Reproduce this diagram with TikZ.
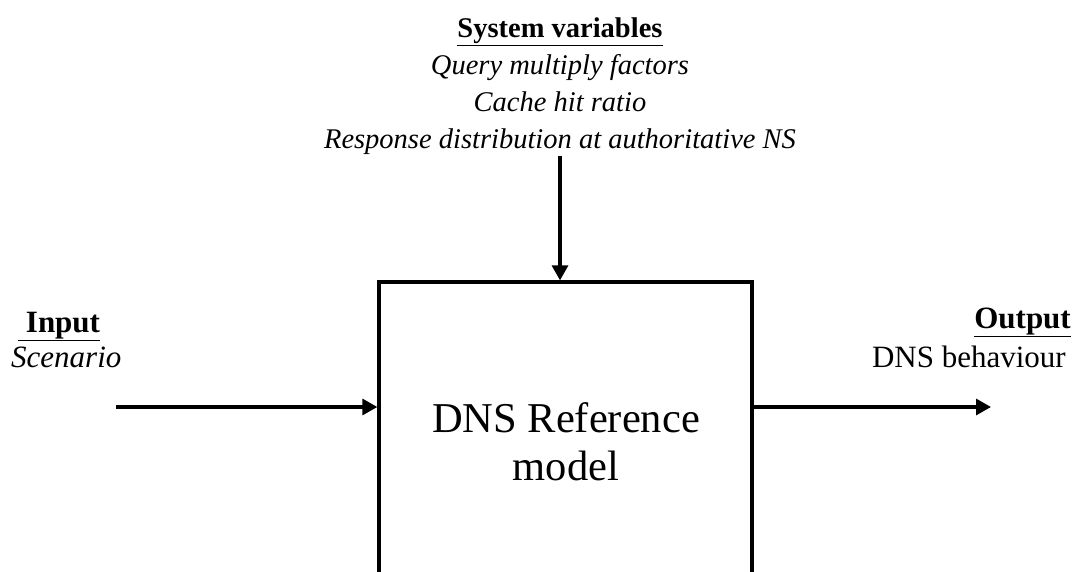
\documentclass[tikz,border=0pt]{standalone}
\usepackage{fontspec}
\setmainfont{Liberation Serif}
\usetikzlibrary{arrows.meta}
\tikzset{
  conn/.style={line width=3.2pt,-{Triangle[length=15pt,width=16pt]}},
  boxst/.style={draw,line width=3.3pt,rectangle,inner sep=0pt},
  toptext/.style={inner sep=0pt,align=center,font=\fontsize{28.5}{36.7}\selectfont},
  sidetext/.style={inner sep=0pt,font=\fontsize{31}{36}\selectfont},
}
\begin{document}
\begin{tikzpicture}[x=1pt,y=-1pt]
\useasboundingbox (0,0) rectangle (1075,572);
\clip (0,0) rectangle (1075,572);
% box (open at the bottom: it runs past the picture's edge)
\node[boxst,minimum width=373pt,minimum height=520pt] (box) at (565.5,542) {};
\node[inner sep=0pt,align=center,font=\fontsize{42.5}{48}\selectfont,anchor=base] (boxlabel) at (566,480) {DNS Reference\\model};
% system variables
\node[toptext,anchor=north] (sys) at (560,18) {\textbf{\underline{System variables}}\\\textit{Query multiply factors}\\\textit{Cache hit ratio}\\\textit{Response distribution at authoritative NS}};
\coordinate (sysend) at (560,156);
\draw[conn] (sysend) -- (sysend |- box.north);
% input
\node[sidetext,anchor=base west] (inhead) at (18,332) {\textbf{\underline{\ Input}}};
\node[sidetext,anchor=base west] (insub) at (11,367) {\textit{Scenario}};
\coordinate (instart) at (116,407);
\draw[conn] (instart) -- (box.west |- instart);
% output
\node[sidetext,anchor=base east] (outhead) at (1071,328) {\textbf{\underline{Output}}};
\node[sidetext,anchor=base east] (outsub) at (1066,367) {DNS behaviour};
\coordinate (outend) at (991,407);
\draw[conn] (box.east |- outend) -- (outend);
\end{tikzpicture}
\end{document}
